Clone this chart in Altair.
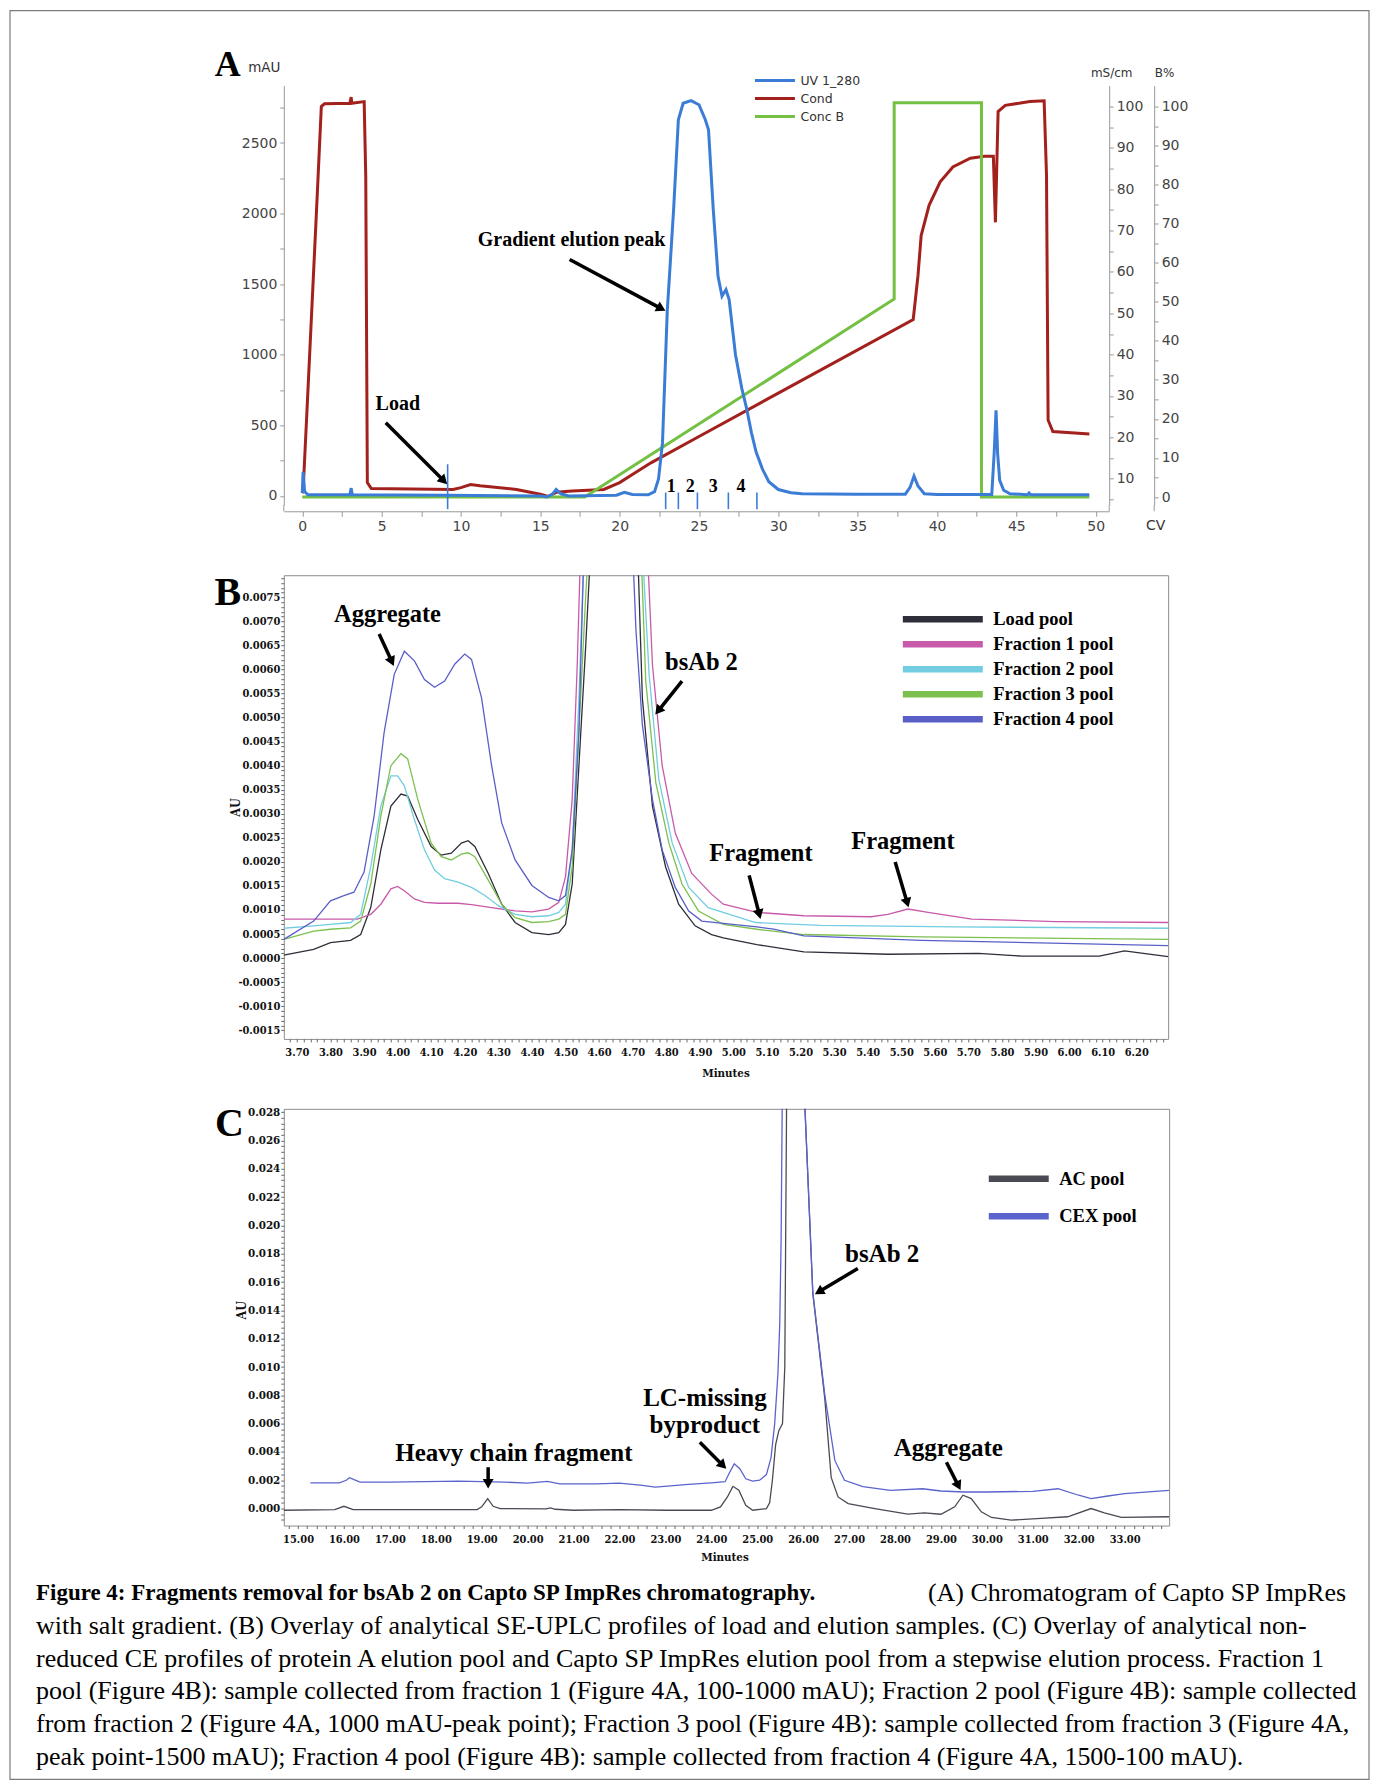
import math
import altair as alt
import pandas as pd

# ======================= Panel A data (CV) =======================
A_SERIES = ["UV 1_280", "Cond", "Conc B"]
A_COLORS = ["#3b7dd6", "#a3211d", "#73c043"]

UV_CV = [0, 0.05, 0.15, 0.35, 3.0, 3.08, 3.15, 9.0, 15.0, 15.4, 15.75, 16.0, 16.3, 16.8, 19.8, 20.3,
         20.8, 21.8, 22.2, 22.45, 22.7, 23.0, 23.4, 23.7, 24.0, 24.5, 25.0, 25.4, 25.6, 25.9, 26.2,
         26.45, 26.7, 26.9, 27.3, 27.7, 28.0, 28.3, 28.6, 29.0, 29.4, 30.0, 30.8, 31.5, 35.0, 38.0,
         38.3, 38.55, 38.8, 39.2, 40.0, 43.45, 43.6, 43.72, 43.82, 43.95, 44.2, 44.6, 45.7, 45.8,
         45.9, 49.6]
UV_MAU = [20, 170, 30, 8, 8, 55, 8, 5, 0, -8, 10, 45, 15, 0, 5, 25,
          10, 8, 30, 120, 377, 1309, 2028, 2665, 2782, 2801, 2771, 2665, 2594, 2028, 1556,
          1415, 1462, 1391, 1000, 760, 620, 450, 310, 190, 100, 45, 22, 15, 12, 12,
          60, 140, 70, 15, 10, 10, 300, 607, 300, 110, 40, 15, 8, 20,
          8, 8]

COND_CV = [0, 0.05, 0.3, 0.9, 1.2, 1.4, 3.0, 3.08, 3.12, 3.9, 4.0, 4.1, 4.35, 9.5, 10.0, 10.6,
           11.2, 13.5, 15.0, 15.5, 16.0, 17.0, 19.0, 20.0, 21.0, 22.0, 25.0, 30.0, 38.5, 38.8,
           39.0, 39.5, 40.2, 41.0, 42.1, 43.0, 43.55, 43.68, 43.85, 44.3, 45.85, 46.75, 46.9,
           47.0, 47.3, 49.6]
COND_MS = [6.5, 7.0, 26.8, 75.1, 100.0, 100.7, 100.8, 102.3, 100.8, 101.2, 83.1, 9.05, 7.6, 7.4,
           7.85, 8.6, 8.3, 7.4, 6.25, 5.7, 6.7, 7.0, 7.4, 9.05, 11.5, 13.9, 20.2, 30.7, 48.5, 59.1,
           68.8, 76.1, 81.8, 85.4, 87.5, 88.0, 88.0, 72.0, 98.8, 100.3, 101.2, 101.4, 83.4,
           24.2, 21.4, 20.8]

CONCB_CV = [0, 17.8, 37.3, 37.3, 42.8, 42.8, 49.6]
CONCB_PCT = [0, 0, 50.7, 101, 101, 0, 0]

FRACTION_EDGES_CV = [22.9, 23.7, 24.9, 26.85, 28.65]
FRACTION_LABELS = ["1", "2", "3", "4"]
FRACTION_LABEL_CV = [23.25, 24.45, 25.9, 27.65]
LOAD_MARK_CV = 9.16

# ======================= Panel B data (minutes, AU) =======================
B_SERIES = ["Load pool", "Fraction 1 pool", "Fraction 2 pool", "Fraction 3 pool", "Fraction 4 pool"]
B_COLORS = ["#2e2e3a", "#c95aa9", "#72cde0", "#7cc04f", "#5a5fc8"]

LOAD_MIN = [3.661, 3.75, 3.80, 3.86, 3.89, 3.92, 3.95, 3.98, 4.01, 4.03, 4.06, 4.10, 4.13, 4.16, 4.19,
            4.21, 4.23, 4.27, 4.31, 4.35, 4.40, 4.45, 4.48, 4.50, 4.52, 4.54, 4.56, 4.575, 4.64, 4.715,
            4.729, 4.759, 4.798, 4.837, 4.886, 4.935, 4.97, 5.07, 5.21, 5.46, 5.73, 5.86, 6.09, 6.165,
            6.295]
LOAD_AU = [0.00006, 0.00018, 0.00032, 0.00037, 0.00049, 0.00105, 0.00225, 0.00316, 0.00341, 0.00337,
           0.00288, 0.00232, 0.00214, 0.00218, 0.00239, 0.00244, 0.00232, 0.00176, 0.00112, 0.00074,
           0.00053, 0.00049, 0.00053, 0.0007, 0.00154, 0.0040, 0.00646, 0.0085, 0.06, 0.0085,
           0.0054, 0.00316, 0.0019, 0.00112, 0.00067, 0.00049, 0.00042, 0.00028, 0.00013, 0.00008,
           0.0001, 0.00004, 0.00004, 0.00015, 0.00003]

F1_MIN = [3.661, 3.80, 3.88, 3.92, 3.95, 3.98, 4.00, 4.02, 4.05, 4.08, 4.12, 4.18, 4.22, 4.28, 4.35,
          4.40, 4.45, 4.48, 4.50, 4.52, 4.535, 4.545, 4.62, 4.744, 4.759, 4.788, 4.827, 4.876, 4.935,
          4.97, 5.07, 5.21, 5.41, 5.46, 5.52, 5.58, 5.71, 5.96, 6.295]
F1_AU = [0.00081, 0.00081, 0.00081, 0.00091, 0.00112, 0.00144, 0.00149, 0.0014, 0.00123, 0.00116,
         0.00114, 0.00114, 0.00111, 0.00105, 0.00098, 0.00096, 0.00102, 0.00116, 0.00169, 0.0033,
         0.0061, 0.0085, 0.06, 0.0085, 0.0061, 0.0040, 0.0026, 0.00176, 0.00133, 0.00112, 0.00095,
         0.00088, 0.00086, 0.00091, 0.00102, 0.00095, 0.00081, 0.00076, 0.00074]

F2_MIN = [3.661, 3.75, 3.80, 3.86, 3.89, 3.92, 3.95, 3.98, 4.00, 4.02, 4.05, 4.08, 4.11, 4.14, 4.18,
          4.22, 4.26, 4.30, 4.35, 4.40, 4.45, 4.48, 4.50, 4.52, 4.54, 4.555, 4.63, 4.729, 4.749,
          4.778, 4.818, 4.867, 4.925, 5.066, 5.26, 5.66, 6.295]
F2_AU = [0.00062, 0.00067, 0.0007, 0.00074, 0.00091, 0.0019, 0.00316, 0.00379, 0.00379, 0.00358,
         0.00288, 0.00225, 0.00183, 0.00165, 0.00158, 0.00147, 0.0013, 0.00109, 0.00091, 0.00086,
         0.00088, 0.00095, 0.00112, 0.00225, 0.0054, 0.0085, 0.06, 0.0085, 0.0059, 0.00372, 0.00239,
         0.00147, 0.00105, 0.00074, 0.00068, 0.00065, 0.00062]

F3_MIN = [3.661, 3.75, 3.80, 3.86, 3.89, 3.92, 3.95, 3.98, 4.01, 4.03, 4.06, 4.10, 4.13, 4.16, 4.19,
          4.21, 4.23, 4.27, 4.31, 4.35, 4.40, 4.45, 4.48, 4.50, 4.52, 4.54, 4.56, 4.568, 4.645, 4.725,
          4.739, 4.769, 4.808, 4.847, 4.896, 4.97, 5.07, 5.21, 5.56, 6.295]
F3_AU = [0.00039, 0.00056, 0.0006, 0.00063, 0.00077, 0.00154, 0.00295, 0.0040, 0.00425, 0.00414,
         0.0033, 0.00239, 0.00211, 0.00204, 0.00216, 0.00219, 0.00211, 0.00162, 0.00112, 0.00084,
         0.00074, 0.00076, 0.00081, 0.00091, 0.0019, 0.0047, 0.0075, 0.0085, 0.06, 0.0085, 0.00576,
         0.00365, 0.00239, 0.00154, 0.00098, 0.0007, 0.0006, 0.00049, 0.00044, 0.00039]

F4_MIN = [3.661, 3.75, 3.80, 3.84, 3.87, 3.90, 3.93, 3.96, 3.99, 4.02, 4.05, 4.08, 4.11, 4.14, 4.17,
          4.20, 4.22, 4.25, 4.28, 4.31, 4.35, 4.40, 4.45, 4.48, 4.50, 4.52, 4.54, 4.555, 4.63, 4.70,
          4.71, 4.729, 4.759, 4.788, 4.827, 4.867, 4.906, 5.07, 5.12, 5.21, 5.56, 6.295]
F4_AU = [0.00039, 0.00077, 0.00119, 0.0013, 0.00137, 0.00179, 0.00295, 0.0047, 0.0059, 0.00638,
         0.00618, 0.00579, 0.00563, 0.00576, 0.00611, 0.00632, 0.00621, 0.00541, 0.0040, 0.00281,
         0.00204, 0.00151, 0.00126, 0.00119, 0.0013, 0.00225, 0.0047, 0.0085, 0.06, 0.0085, 0.0068,
         0.00485, 0.0033, 0.00225, 0.00147, 0.00098, 0.00077, 0.00065, 0.0006, 0.00046, 0.00037,
         0.00026]

# ======================= Panel C data (minutes, AU) =======================
C_SERIES = ["AC pool", "CEX pool"]
C_COLORS = ["#4a4a55", "#5b63cc"]

CEX_MIN = [15.27, 15.9, 16.05, 16.12, 16.22, 16.35, 17.0, 18.5, 19.5, 20.0, 20.43, 20.7, 21.5, 22.0,
           22.5, 22.78, 23.5, 24.0, 24.3, 24.4, 24.5, 24.62, 24.75, 24.9, 25.05, 25.2, 25.3, 25.38,
           25.45, 25.49, 25.52, 25.545, 25.8, 26.03, 26.21, 26.47, 26.69, 26.9, 27.3, 27.9, 28.6,
           29.0, 29.5, 30.0, 31.0, 31.55, 32.0, 32.27, 32.6, 33.0, 33.97]
CEX_AU = [0.00182, 0.00182, 0.0020, 0.00218, 0.00204, 0.00187, 0.00187, 0.00194, 0.00187, 0.0018,
          0.00192, 0.00175, 0.00175, 0.0018, 0.00164, 0.00152, 0.00171, 0.00182, 0.0019, 0.00257,
          0.00316, 0.00281, 0.0021, 0.00194, 0.0020, 0.0024, 0.0036, 0.0060, 0.0095, 0.0130, 0.0190,
          0.0290, 0.09, 0.0290, 0.0153, 0.00807, 0.0034, 0.0020, 0.00155, 0.00129, 0.0014, 0.00124,
          0.00117, 0.00117, 0.00122, 0.0014, 0.00094, 0.0007, 0.00087, 0.00105, 0.00129]

AC_MIN = [14.69, 15.8, 16.0, 16.2, 17.0, 18.9, 19.0, 19.13, 19.25, 19.4, 20.4, 20.5, 20.6, 21.0, 22.0,
          23.0, 24.0, 24.2, 24.35, 24.47, 24.6, 24.75, 24.9, 25.2, 25.27, 25.33, 25.40, 25.47, 25.55,
          25.60, 25.64, 25.85, 26.03, 26.21, 26.47, 26.61, 26.76, 26.98, 27.56, 28.28, 28.64, 29.0,
          29.3, 29.48, 29.66, 29.88, 30.1, 30.53, 31.18, 31.76, 32.27, 32.56, 32.93, 33.97]
AC_AU = [-0.00012, -0.00007, 0.00016, -0.00007, -0.00007, -0.00007, 0.00012, 0.0007, 0.00016, 0.0,
         -0.00002, 0.00005, -0.00005, -0.00012, -0.00007, -0.00012, -0.00012, 0.00012, 0.00082,
         0.00157, 0.00129, 0.00023, -0.00012, 0.0, 0.0004, 0.0020, 0.0045, 0.0055, 0.0060, 0.0100,
         0.0290, 0.09, 0.0290, 0.0152, 0.0078, 0.0022, 0.00082, 0.00035, 0.0, -0.0004, -0.0003,
         -0.0004, 0.00012, 0.00094, 0.0007, -0.00023, -0.00063, -0.00082, -0.0007, -0.00058, 0.0,
         -0.0003, -0.00063, -0.00058]

CAPTION_BOLD = "Figure 4: Fragments removal for bsAb 2 on Capto SP ImpRes chromatography."
CAPTION_LINES = [
    "(A) Chromatogram of Capto SP ImpRes",
    "with salt gradient. (B) Overlay of analytical SE-UPLC profiles of load and elution samples. (C) Overlay of analytical non-",
    "reduced CE profiles of protein A elution pool and Capto SP ImpRes elution pool from a stepwise elution process. Fraction 1",
    "pool (Figure 4B): sample collected from fraction 1 (Figure 4A, 100-1000 mAU); Fraction 2 pool (Figure 4B): sample collected",
    "from fraction 2 (Figure 4A, 1000 mAU-peak point); Fraction 3 pool (Figure 4B): sample collected from fraction 3 (Figure 4A,",
    "peak point-1500 mAU); Fraction 4 pool (Figure 4B): sample collected from fraction 4 (Figure 4A, 1500-100 mAU).",
]

# ======================= layout / style =======================
SERIF = "Liberation Serif"
COND = "'DejaVu Serif Condensed', 'Liberation Serif', serif"
SANS = "DejaVu Sans"
ONE = pd.DataFrame({"k": [0]})
MANY = 1000  # tick count ceiling so every listed tick value is drawn

A_W, A_H = 826, 420
B_W, B_H = 885, 464
C_W, C_H = 886, 417
A_XD, A_MAU = [-1.165, 50.85], [-66.6, 2907]
A_MS, A_PCT = [3.57, 105.07], [-2.12, 105.37]
B_XD, B_YD = [3.661, 6.295], [-0.00168, 0.00796]
C_XD, C_YD = [14.69, 33.97], [-0.0012, 0.02824]


def sc(d):
    return alt.Scale(domain=d, nice=False, zero=False)


def line_df(xs, ys, name):
    return pd.DataFrame({"x": xs, "y": ys, "series": name, "i": list(range(len(xs)))})


def arrow_layers(rows, xs, ys, kx, ky, head=120, width=3.5):
    recs = []
    for (x1, y1, x2, y2) in rows:
        dxp = (x2 - x1) * kx
        dyp = -(y2 - y1) * ky
        L = math.hypot(dxp, dyp)
        ux, uy = dxp / L, dyp / L
        ang = math.degrees(math.atan2(ux, -uy)) % 360
        back = 5.0
        recs.append(dict(x1=x1, y1=y1, x2=x2 - ux * back / kx, y2=y2 + uy * back / ky, ang=ang))
    df = pd.DataFrame(recs)
    shaft = alt.Chart(df).mark_rule(color="black", strokeWidth=width).encode(
        x=alt.X("x1:Q", scale=xs), y=alt.Y("y1:Q", scale=ys), x2="x2:Q", y2="y2:Q")
    tip = alt.Chart(df).mark_point(shape="triangle-up", filled=True, color="black", size=head,
                                    opacity=1, strokeWidth=0).encode(
        x=alt.X("x2:Q", scale=xs), y=alt.Y("y2:Q", scale=ys),
        angle=alt.Angle("ang:Q", scale=None))
    return [shaft, tip]


def texts(rows, xs, ys, size, font=SERIF):
    df = pd.DataFrame(rows, columns=["x", "y", "t"])
    return alt.Chart(df).mark_text(font=font, fontWeight="bold", fontSize=size, color="black").encode(
        x=alt.X("x:Q", scale=xs), y=alt.Y("y:Q", scale=ys), text="t:N")


def value_text(txt, x, y, size, font=SERIF, weight="bold", align="center", baseline="alphabetic"):
    return alt.Chart(ONE).mark_text(font=font, fontWeight=weight, fontSize=size, align=align,
                                    baseline=baseline, color="black").encode(
        x=alt.value(x), y=alt.value(y), text=alt.value(txt))


# ======================= Panel A =======================
xA, yAm, yAs, yAp = sc(A_XD), sc(A_MAU), sc(A_MS), sc(A_PCT)
kxA = A_W / (A_XD[1] - A_XD[0])
kyA = A_H / (A_MAU[1] - A_MAU[0])

legA = alt.Legend(title=None, orient="none", legendX=470, legendY=-12, direction="vertical",
                  symbolType="stroke", symbolSize=1600, symbolStrokeWidth=3, labelFont=SANS,
                  labelFontSize=12.5, labelColor="#333", clipHeight=14, rowPadding=4, padding=0,
                  labelOffset=4)
colA = alt.Color("series:N", scale=alt.Scale(domain=A_SERIES, range=A_COLORS), legend=legA)

axA_x = alt.Axis(values=[i * 2.5 for i in range(21)], format="d", tickCount=MANY,
                 labelExpr="datum.value % 5 == 0 ? datum.label : ''",
                 title="CV", titleX=872, titleY=14, titleAlign="center", titleBaseline="middle",
                 titleFont=SANS, titleFontSize=14, titleFontWeight="normal", titleColor="#333",
                 labelFont=SANS, labelFontSize=14, labelColor="#444", tickColor="#999",
                 domainColor="#999", tickSize=5, labelPadding=3, offset=6, grid=False,
                 labelOverlap=False, labelFlush=False)
axA_y = alt.Axis(orient="left", values=[i * 250 for i in range(12)], format="d", tickCount=MANY,
                 labelExpr="datum.value % 500 == 0 ? datum.label : ''",
                 title="mAU", titleAngle=0, titleX=-20, titleY=-18, titleAlign="center",
                 titleBaseline="middle", titleFont=SANS, titleFontSize=13.5, titleFontWeight="normal",
                 titleColor="#333", labelFont=SANS, labelFontSize=14, labelColor="#444",
                 tickColor="#999", domainColor="#999", tickSize=4, labelPadding=3, grid=False,
                 labelOverlap=False, labelFlush=False)
axA_ms = alt.Axis(orient="right", values=[i * 5 for i in range(1, 21)], format="d", tickCount=MANY,
                  labelExpr="datum.value % 10 == 0 ? datum.label : ''",
                  title="mS/cm", titleAngle=0, titleX=2, titleY=-13, titleAlign="center",
                  titleBaseline="middle", titleFont=SANS, titleFontSize=12, titleFontWeight="normal",
                  titleColor="#333", labelFont=SANS, labelFontSize=14, labelColor="#444",
                  tickColor="#999", domainColor="#999", tickSize=4, labelPadding=3, grid=False,
                  labelOverlap=False, labelFlush=False)
axA_pct = alt.Axis(orient="right", offset=45, values=[i * 5 for i in range(0, 21)], format="d",
                   tickCount=MANY, labelExpr="datum.value % 10 == 0 ? datum.label : ''",
                   title="B%", titleAngle=0, titleX=10, titleY=-13, titleAlign="center",
                   titleBaseline="middle", titleFont=SANS, titleFontSize=12, titleFontWeight="normal",
                   titleColor="#333", labelFont=SANS, labelFontSize=14, labelColor="#444",
                   tickColor="#999", domainColor="#999", tickSize=4, labelPadding=3, grid=False,
                   labelOverlap=False, labelFlush=False)

uv_line = alt.Chart(line_df(UV_CV, UV_MAU, "UV 1_280")).mark_line(strokeWidth=3).encode(
    x=alt.X("x:Q", scale=xA, axis=axA_x), y=alt.Y("y:Q", scale=yAm, axis=axA_y),
    color=colA, order="i:Q")
cond_line = alt.Chart(line_df(COND_CV, COND_MS, "Cond")).mark_line(strokeWidth=3).encode(
    x=alt.X("x:Q", scale=xA), y=alt.Y("y:Q", scale=yAs, axis=axA_ms),
    color=colA, order="i:Q")
concb_line = alt.Chart(line_df(CONCB_CV, CONCB_PCT, "Conc B")).mark_line(strokeWidth=3).encode(
    x=alt.X("x:Q", scale=xA), y=alt.Y("y:Q", scale=yAp, axis=axA_pct),
    color=colA, order="i:Q")

mark_df = pd.DataFrame({"x": FRACTION_EDGES_CV + [LOAD_MARK_CV],
                        "y0": [-94] * 6, "y1": [24] * 5 + [224]})
frac_rules = alt.Chart(mark_df).mark_rule(color="#3b7dd6", strokeWidth=1.6).encode(
    x=alt.X("x:Q", scale=xA), y=alt.Y("y0:Q", scale=yAm), y2="y1:Q")
frac_text = texts([(x, 65, t) for x, t in zip(FRACTION_LABEL_CV, FRACTION_LABELS)], xA, yAm, 18)
a_notes = texts([(16.97, 1812, "Gradient elution peak"), (6.02, 648, "Load")], xA, yAm, 20)
a_arrows = arrow_layers([(16.85, 1675, 22.9, 1310), (5.26, 518, 9.14, 82)], xA, yAm, kxA, kyA)

border = alt.Chart(ONE).mark_rect(fillOpacity=0, stroke="#7c7c7c", strokeWidth=1.2).encode(
    x=alt.value(-274), x2=alt.value(1086), y=alt.value(-75), y2=alt.value(1695))
gap_rules = [alt.Chart(ONE).mark_rule(color="#999", strokeWidth=1).encode(
    x=alt.value(xv), y=alt.value(A_H), y2=alt.value(A_H + 6)) for xv in (0, A_W, A_W + 45)]
letterA = value_text("A", -56, -10, 36)

uv_group = alt.layer(uv_line, frac_rules, frac_text, a_notes, *a_arrows, border, *gap_rules, letterA)
panelA = alt.layer(cond_line, concb_line, uv_group).resolve_scale(y="independent").properties(
    width=A_W, height=A_H, view=alt.ViewBackground(stroke="transparent"))

# ======================= Panel B =======================
xB, yB = sc(B_XD), sc(B_YD)
kxB = B_W / (B_XD[1] - B_XD[0])
kyB = B_H / (B_YD[1] - B_YD[0])

legB = alt.Legend(title=None, orient="none", legendX=616, legendY=34.5, direction="vertical",
                  symbolType="stroke", symbolSize=6400, symbolStrokeWidth=6.5, labelFont=SERIF,
                  labelFontWeight="bold", labelFontSize=18.5, labelColor="black", clipHeight=19,
                  rowPadding=6, padding=0, labelOffset=7)
colB = alt.Color("series:N", scale=alt.Scale(domain=B_SERIES, range=B_COLORS), legend=legB)

MINUS = "\u2212"
axB_x = alt.Axis(values=[round(3.66 + 0.02 * i, 2) for i in range(132)], tickCount=MANY,
                 labelExpr="abs(datum.value*10 - round(datum.value*10)) < 0.001 ? format(datum.value, '.2f') : ''",
                 title="Minutes", titleX=442, titleY=35, titleAlign="center", titleBaseline="middle",
                 titleFont=COND, titleFontSize=11.5, titleFontWeight="bold", titleColor="#111",
                 labelFont=COND, labelFontSize=11, labelFontWeight="bold", labelColor="#111",
                 tickColor="#666", tickSize=3, labelPadding=5, domain=False, grid=False,
                 labelOverlap=False, labelFlush=False, labelBound=False)
axB_y = alt.Axis(values=[round(-0.0015 + 0.0001 * i, 4) for i in range(95)], tickCount=MANY,
                 labelExpr="abs(datum.value*2000 - round(datum.value*2000)) < 0.01 ? replace(format(datum.value, '.4f'), '" + MINUS + "', '-') : ''",
                 title="AU", titleAngle=270, titleX=-48, titleY=232, titleAlign="center",
                 titleBaseline="middle", titleFont=COND, titleFontSize=12.5, titleFontWeight="bold",
                 titleColor="#111", labelFont=COND, labelFontSize=11, labelFontWeight="bold",
                 labelColor="#111", tickColor="#666", tickSize=3, labelPadding=1, domain=False,
                 grid=False, labelOverlap=False, labelFlush=False, labelBound=False)

b_lines = []
for i, (xs_, ys_, nm) in enumerate([(LOAD_MIN, LOAD_AU, B_SERIES[0]), (F1_MIN, F1_AU, B_SERIES[1]),
                                    (F2_MIN, F2_AU, B_SERIES[2]), (F3_MIN, F3_AU, B_SERIES[3]),
                                    (F4_MIN, F4_AU, B_SERIES[4])]):
    if i == 0:
        ex = alt.X("x:Q", scale=xB, axis=axB_x)
        ey = alt.Y("y:Q", scale=yB, axis=axB_y)
    else:
        ex = alt.X("x:Q", scale=xB)
        ey = alt.Y("y:Q", scale=yB)
    b_lines.append(alt.Chart(line_df(xs_, ys_, nm)).mark_line(strokeWidth=1.3, clip=True).encode(
        x=ex, y=ey, color=colB, order="i:Q"))

b_notes = texts([(3.970, 0.00714, "Aggregate"), (4.905, 0.00614, "bsAb 2"),
                 (5.082, 0.00216, "Fragment"), (5.505, 0.00242, "Fragment")], xB, yB, 24.5)
b_arrows = arrow_layers([(3.945, 0.00674, 3.989, 0.00607), (4.847, 0.00576, 4.767, 0.00506),
                         (5.047, 0.00172, 5.081, 0.00081), (5.482, 0.0020, 5.522, 0.00105)],
                        xB, yB, kxB, kyB)
letterB = value_text("B", -56, 29.5, 40)

panelB = alt.layer(*b_lines, b_notes, *b_arrows, letterB).properties(width=B_W, height=B_H)

# ======================= Panel C =======================
xC, yC = sc(C_XD), sc(C_YD)
kxC = C_W / (C_XD[1] - C_XD[0])
kyC = C_H / (C_YD[1] - C_YD[0])

legC = alt.Legend(title=None, orient="none", legendX=702, legendY=60.5, direction="vertical",
                  symbolType="stroke", symbolSize=3600, symbolStrokeWidth=6.5, labelFont=SERIF,
                  labelFontWeight="bold", labelFontSize=18.5, labelColor="black", clipHeight=19,
                  rowPadding=18.5, padding=0, labelOffset=7)
colC = alt.Color("series:N", scale=alt.Scale(domain=C_SERIES, range=C_COLORS), legend=legC)

axC_x = alt.Axis(values=[round(14.8 + 0.2 * i, 1) for i in range(96)], tickCount=MANY,
                 labelExpr="abs(datum.value - round(datum.value)) < 0.001 ? format(datum.value, '.2f') : ''",
                 title="Minutes", titleX=441, titleY=32, titleAlign="center", titleBaseline="middle",
                 titleFont=COND, titleFontSize=11.5, titleFontWeight="bold", titleColor="#111",
                 labelFont=COND, labelFontSize=11, labelFontWeight="bold", labelColor="#111",
                 tickColor="#666", tickSize=3, labelPadding=5, domain=False, grid=False,
                 labelOverlap=False, labelFlush=False, labelBound=False)
axC_y = alt.Axis(values=[round(-0.0008 + 0.0004 * i, 4) for i in range(73)], tickCount=MANY,
                 labelExpr="abs(datum.value*500 - round(datum.value*500)) < 0.01 && datum.value > -0.0001 ? format(datum.value, '.3f') : ''",
                 title="AU", titleAngle=270, titleX=-42, titleY=201, titleAlign="center",
                 titleBaseline="middle", titleFont=COND, titleFontSize=12.5, titleFontWeight="bold",
                 titleColor="#111", labelFont=COND, labelFontSize=11.5, labelFontWeight="bold",
                 labelColor="#111", tickColor="#666", tickSize=3, labelPadding=1, domain=False,
                 grid=False, labelOverlap=False, labelFlush=False, labelBound=False)

c_ac = alt.Chart(line_df(AC_MIN, AC_AU, "AC pool")).mark_line(strokeWidth=1.3, clip=True).encode(
    x=alt.X("x:Q", scale=xC, axis=axC_x), y=alt.Y("y:Q", scale=yC, axis=axC_y),
    color=colC, order="i:Q")
c_cex = alt.Chart(line_df(CEX_MIN, CEX_AU, "CEX pool")).mark_line(strokeWidth=1.3, clip=True).encode(
    x=alt.X("x:Q", scale=xC), y=alt.Y("y:Q", scale=yC),
    color=colC, order="i:Q")

c_notes = texts([(19.70, 0.0039, "Heavy chain fragment"), (23.86, 0.00784, "LC-missing"),
                 (23.86, 0.00592, "byproduct"), (27.72, 0.0180, "bsAb 2"),
                 (29.16, 0.0043, "Aggregate")], xC, yC, 25)
c_arrows = arrow_layers([(19.14, 0.00292, 19.14, 0.0014), (23.75, 0.00468, 24.33, 0.0028),
                         (27.19, 0.01696, 26.25, 0.01513), (29.12, 0.00327, 29.43, 0.00129)],
                        xC, yC, kxC, kyC)
letterC = value_text("C", -54.5, 27, 40)

CAP_X, CAP_Y0, CAP_DY = -248, 484.5, 32.8
caption = [value_text(CAPTION_BOLD, CAP_X, CAP_Y0, 23, align="left", baseline="middle"),
           value_text(CAPTION_LINES[0], 1063, CAP_Y0, 26, weight="normal", align="right",
                      baseline="middle")]
for k, ln in enumerate(CAPTION_LINES[1:], start=1):
    caption.append(value_text(ln, CAP_X, CAP_Y0 + CAP_DY * k, 26, weight="normal",
                              align="left", baseline="middle"))

panelC = alt.layer(c_ac, c_cex, c_notes, *c_arrows, letterC, *caption).properties(
    width=C_W, height=C_H)

chart = alt.vconcat(panelA, panelB, panelC, spacing=70, bounds="flush").resolve_scale(
    color="independent").properties(padding=0, background="white").configure_view(
    stroke="#8c8c8c", strokeWidth=1)

chart.save("out.html", embed_options={"renderer": "svg", "actions": False})
